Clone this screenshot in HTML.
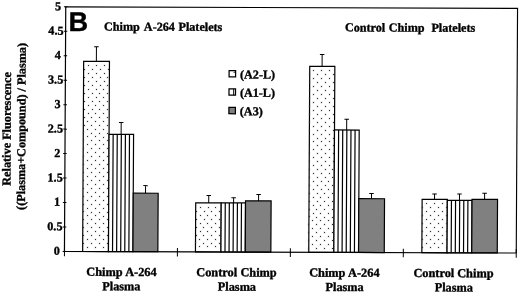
<!DOCTYPE html>
<html lang="en"><head><meta charset="utf-8"><title>Figure B</title>
<style>html,body{margin:0;padding:0;background:#fff;}body{width:520px;height:294px;overflow:hidden;}svg{display:block;}text{font-family:"Liberation Serif","Times New Roman",serif;font-weight:bold;fill:#000;stroke:#000;stroke-width:0.35px;stroke-linejoin:round;}</style>
</head><body>
<svg width="520" height="294" viewBox="0 0 520 294">
<rect width="520" height="294" fill="#fff"/>
<g transform="matrix(1 0.0035 -0.0053 1 0.6890 -1.0185)">
<rect x="83.30" y="62.01" width="25.80" height="190.22" fill="#fff"/>
<rect x="83.30" y="62.01" width="25.80" height="190.22" fill="none" stroke="#000" stroke-width="1.2"/>
<rect x="109.10" y="135.00" width="24.50" height="117.23" fill="#fff" stroke="#000" stroke-width="1.2"/>
<path d="M113.18 135.00V252.23M117.27 135.00V252.23M121.35 135.00V252.23M125.43 135.00V252.23M129.52 135.00V252.23" stroke="#000" stroke-width="1.2" fill="none"/>
<rect x="133.60" y="193.71" width="24.90" height="58.52" fill="#808080" stroke="#000" stroke-width="1.2"/>
<path d="M96.00 62.01V47.38M93.75 47.38H98.25M121.15 135.00V123.11M118.90 123.11H123.40M145.85 193.71V186.13M143.60 186.13H148.10" stroke="#000" stroke-width="1" fill="none"/>
<rect x="196.10" y="203.21" width="25.50" height="49.02" fill="#fff"/>
<rect x="196.10" y="203.21" width="25.50" height="49.02" fill="none" stroke="#000" stroke-width="1.2"/>
<rect x="221.60" y="203.11" width="24.30" height="49.12" fill="#fff" stroke="#000" stroke-width="1.2"/>
<path d="M225.65 203.11V252.23M229.70 203.11V252.23M233.75 203.11V252.23M237.80 203.11V252.23M241.85 203.11V252.23" stroke="#000" stroke-width="1.2" fill="none"/>
<rect x="245.90" y="201.00" width="25.60" height="51.23" fill="#808080" stroke="#000" stroke-width="1.2"/>
<path d="M209.10 203.21V195.67M206.85 195.67H211.35M234.00 203.11V197.92M231.75 197.92H236.25M258.95 201.00V194.60M256.70 194.60H261.20" stroke="#000" stroke-width="1" fill="none"/>
<rect x="309.40" y="66.21" width="25.10" height="186.02" fill="#fff"/>
<rect x="309.40" y="66.21" width="25.10" height="186.02" fill="none" stroke="#000" stroke-width="1.2"/>
<rect x="334.50" y="129.82" width="24.70" height="122.41" fill="#fff" stroke="#000" stroke-width="1.2"/>
<path d="M338.62 129.82V252.23M342.73 129.82V252.23M346.85 129.82V252.23M350.97 129.82V252.23M355.08 129.82V252.23" stroke="#000" stroke-width="1.2" fill="none"/>
<rect x="359.20" y="198.41" width="25.70" height="53.82" fill="#808080" stroke="#000" stroke-width="1.2"/>
<path d="M321.75 66.21V54.32M319.50 54.32H324.00M346.65 129.82V119.00M344.40 119.00H348.90M371.85 198.41V193.23M369.60 193.23H374.10" stroke="#000" stroke-width="1" fill="none"/>
<rect x="422.50" y="198.90" width="25.20" height="53.33" fill="#fff"/>
<rect x="422.50" y="198.90" width="25.20" height="53.33" fill="none" stroke="#000" stroke-width="1.2"/>
<rect x="447.70" y="199.73" width="24.70" height="52.50" fill="#fff" stroke="#000" stroke-width="1.2"/>
<path d="M451.82 199.73V252.23M455.93 199.73V252.23M460.05 199.73V252.23M464.17 199.73V252.23M468.28 199.73V252.23" stroke="#000" stroke-width="1.2" fill="none"/>
<rect x="472.40" y="198.70" width="25.50" height="53.53" fill="#808080" stroke="#000" stroke-width="1.2"/>
<path d="M434.90 198.90V193.52M432.65 193.52H437.15M459.85 199.73V193.52M457.60 193.52H462.10M484.95 198.70V192.64M482.70 192.64H487.20" stroke="#000" stroke-width="1" fill="none"/>
<path d="M65.1 7.6H516.9V252.23" stroke="#000" stroke-width="1.15" fill="none"/>
<path d="M65.1 7.6V252.23H516.9" stroke="#000" stroke-width="1.2" fill="none"/>
<text x="60.50" y="255.63" font-size="12.15" text-anchor="end">0</text>
<text x="63.00" y="231.17" font-size="12.15" text-anchor="end">0.5</text>
<text x="60.50" y="206.70" font-size="12.15" text-anchor="end">1</text>
<text x="63.00" y="182.24" font-size="12.15" text-anchor="end">1.5</text>
<text x="60.50" y="157.78" font-size="12.15" text-anchor="end">2</text>
<text x="63.00" y="133.31" font-size="12.15" text-anchor="end">2.5</text>
<text x="60.50" y="108.85" font-size="12.15" text-anchor="end">3</text>
<text x="63.00" y="84.39" font-size="12.15" text-anchor="end">3.5</text>
<text x="60.50" y="59.93" font-size="12.15" text-anchor="end">4</text>
<text x="63.00" y="35.46" font-size="12.15" text-anchor="end">4.5</text>
<text x="60.50" y="11.00" font-size="12.15" text-anchor="end">5</text>
<path d="M63.30 252.23H66.80M63.30 227.77H66.80M63.30 203.30H66.80M63.30 178.84H66.80M63.30 154.38H66.80M63.30 129.91H66.80M63.30 105.45H66.80M63.30 80.99H66.80M63.30 56.53H66.80M63.30 32.06H66.80M63.30 7.60H66.80M65.10 248.33V256.93M178.05 248.33V256.93M291.00 248.33V256.93M403.95 248.33V256.93M516.90 248.33V256.93" stroke="#000" stroke-width="1" fill="none"/>
<text x="68.0" y="31.8" font-size="27.2" style="font-family:'Liberation Sans',Arial,sans-serif">B</text>
<text y="31.2" font-size="12.15"><tspan x="103.52">Chimp</tspan> <tspan x="143.35">A-264</tspan> <tspan x="177.98">Platelets</tspan></text>
<text y="31.2" font-size="12.15"><tspan x="344.47">Control</tspan> <tspan x="388.27">Chimp</tspan> <tspan x="430.93">Platelets</tspan></text>
<rect x="228.80" y="70.80" width="6.5" height="6.3" fill="#fff" stroke="#000" stroke-width="1.25"/>
<ellipse cx="233.90" cy="72.55" rx="0.6" ry="0.75" fill="#000"/>
<text x="239.75" y="78.65" font-size="12.15">(A2-L)</text>
<rect x="228.80" y="89.05" width="6.5" height="6.3" fill="#fff" stroke="#000" stroke-width="1.25"/>
<path d="M233.45 89.05v6.3" stroke="#000" stroke-width="0.95"/>
<text x="239.75" y="96.90" font-size="12.15">(A1-L)</text>
<rect x="228.80" y="107.65" width="6.5" height="6.3" fill="#808080" stroke="#000" stroke-width="1.25"/>
<text x="239.75" y="115.50" font-size="12.15">(A3)</text>
<text y="276.55" font-size="12.35"><tspan x="87.06">Chimp</tspan> <tspan x="125.95">A-264</tspan></text>
<text y="290.85" font-size="12.25"><tspan x="103.11">Plasma</tspan></text>
<text y="276.55" font-size="12.35"><tspan x="197.01">Control</tspan> <tspan x="241.16">Chimp</tspan></text>
<text y="290.85" font-size="12.25"><tspan x="218.71">Plasma</tspan></text>
<text y="276.55" font-size="12.35"><tspan x="309.91">Chimp</tspan> <tspan x="348.80">A-264</tspan></text>
<text y="290.85" font-size="12.25"><tspan x="326.41">Plasma</tspan></text>
<text y="276.55" font-size="12.35"><tspan x="414.16">Control</tspan> <tspan x="457.96">Chimp</tspan></text>
<text y="290.85" font-size="12.25"><tspan x="435.51">Plasma</tspan></text>
<text transform="translate(10.7 129.9) rotate(-90)" font-size="12.25" text-anchor="middle">Relative Fluorescence</text>
<text transform="translate(25.3 127.4) rotate(-90)" font-size="12.21" text-anchor="middle">((Plasma+Compound) / Plasma)</text>
</g>
<path d="M87.5 64.5h2v2h-2zM95.5 64.5h2v2h-2zM103.5 64.5h2v2h-2zM83.5 68.5h2v2h-2zM91.5 68.5h2v2h-2zM99.5 68.5h2v2h-2zM107.5 68.5h2v2h-2zM87.5 72.5h2v2h-2zM95.5 72.5h2v2h-2zM103.5 72.5h2v2h-2zM83.5 76.5h2v2h-2zM91.5 76.5h2v2h-2zM99.5 76.5h2v2h-2zM106.5 76.5h2v2h-2zM87.5 80.5h2v2h-2zM95.5 80.5h2v2h-2zM103.5 80.5h2v2h-2zM83.5 84.5h2v2h-2zM91.5 84.5h2v2h-2zM99.5 84.5h2v2h-2zM106.5 84.5h2v2h-2zM87.5 88.5h2v2h-2zM95.5 88.5h2v2h-2zM102.5 88.5h2v2h-2zM83.5 92.5h2v2h-2zM91.5 92.5h2v2h-2zM98.5 92.5h2v2h-2zM106.5 92.5h2v2h-2zM87.5 96.5h2v2h-2zM95.5 96.5h2v2h-2zM102.5 96.5h2v2h-2zM83.5 100.5h2v2h-2zM91.5 100.5h2v2h-2zM98.5 100.5h2v2h-2zM106.5 100.5h2v2h-2zM87.5 104.5h2v2h-2zM94.5 104.5h2v2h-2zM102.5 104.5h2v2h-2zM83.5 108.5h2v2h-2zM91.5 108.5h2v2h-2zM98.5 108.5h2v2h-2zM106.5 108.5h2v2h-2zM87.5 112.5h2v2h-2zM94.5 112.5h2v2h-2zM102.5 112.5h2v2h-2zM83.5 116.5h2v2h-2zM90.5 116.5h2v2h-2zM98.5 116.5h2v2h-2zM106.5 116.5h2v2h-2zM86.5 120.5h2v2h-2zM94.5 120.5h2v2h-2zM102.5 120.5h2v2h-2zM83.5 124.5h2v2h-2zM90.5 124.5h2v2h-2zM98.5 124.5h2v2h-2zM106.5 124.5h2v2h-2zM86.5 128.5h2v2h-2zM94.5 128.5h2v2h-2zM102.5 128.5h2v2h-2zM82.5 131.5h2v2h-2zM90.5 132.5h2v2h-2zM98.5 132.5h2v2h-2zM106.5 132.5h2v2h-2zM86.5 135.5h2v2h-2zM94.5 135.5h2v2h-2zM102.5 136.5h2v2h-2zM82.5 139.5h2v2h-2zM90.5 139.5h2v2h-2zM98.5 139.5h2v2h-2zM106.5 139.5h2v2h-2zM86.5 143.5h2v2h-2zM94.5 143.5h2v2h-2zM102.5 143.5h2v2h-2zM82.5 147.5h2v2h-2zM90.5 147.5h2v2h-2zM98.5 147.5h2v2h-2zM106.5 147.5h2v2h-2zM86.5 151.5h2v2h-2zM94.5 151.5h2v2h-2zM102.5 151.5h2v2h-2zM82.5 155.5h2v2h-2zM90.5 155.5h2v2h-2zM98.5 155.5h2v2h-2zM106.5 155.5h2v2h-2zM86.5 159.5h2v2h-2zM94.5 159.5h2v2h-2zM102.5 159.5h2v2h-2zM82.5 163.5h2v2h-2zM90.5 163.5h2v2h-2zM98.5 163.5h2v2h-2zM106.5 163.5h2v2h-2zM86.5 167.5h2v2h-2zM94.5 167.5h2v2h-2zM102.5 167.5h2v2h-2zM82.5 171.5h2v2h-2zM90.5 171.5h2v2h-2zM98.5 171.5h2v2h-2zM106.5 171.5h2v2h-2zM86.5 175.5h2v2h-2zM94.5 175.5h2v2h-2zM102.5 175.5h2v2h-2zM82.5 179.5h2v2h-2zM90.5 179.5h2v2h-2zM98.5 179.5h2v2h-2zM106.5 179.5h2v2h-2zM86.5 183.5h2v2h-2zM94.5 183.5h2v2h-2zM102.5 183.5h2v2h-2zM82.5 187.5h2v2h-2zM90.5 187.5h2v2h-2zM98.5 187.5h2v2h-2zM106.5 187.5h2v2h-2zM86.5 191.5h2v2h-2zM94.5 191.5h2v2h-2zM102.5 191.5h2v2h-2zM82.5 195.5h2v2h-2zM90.5 195.5h2v2h-2zM98.5 195.5h2v2h-2zM106.5 195.5h2v2h-2zM86.5 199.5h2v2h-2zM94.5 199.5h2v2h-2zM102.5 199.5h2v2h-2zM82.5 203.5h2v2h-2zM90.5 203.5h2v2h-2zM98.5 203.5h2v2h-2zM106.5 203.5h2v2h-2zM86.5 207.5h2v2h-2zM94.5 207.5h2v2h-2zM102.5 207.5h2v2h-2zM82.5 210.5h2v2h-2zM90.5 211.5h2v2h-2zM98.5 211.5h2v2h-2zM106.5 211.5h2v2h-2zM86.5 214.5h2v2h-2zM94.5 214.5h2v2h-2zM102.5 215.5h2v2h-2zM82.5 218.5h2v2h-2zM90.5 218.5h2v2h-2zM98.5 218.5h2v2h-2zM106.5 218.5h2v2h-2zM86.5 222.5h2v2h-2zM94.5 222.5h2v2h-2zM102.5 222.5h2v2h-2zM82.5 226.5h2v2h-2zM90.5 226.5h2v2h-2zM98.5 226.5h2v2h-2zM106.5 226.5h2v2h-2zM86.5 230.5h2v2h-2zM94.5 230.5h2v2h-2zM102.5 230.5h2v2h-2zM82.5 234.5h2v2h-2zM90.5 234.5h2v2h-2zM98.5 234.5h2v2h-2zM106.5 234.5h2v2h-2zM86.5 238.5h2v2h-2zM94.5 238.5h2v2h-2zM102.5 238.5h2v2h-2zM82.5 242.5h2v2h-2zM90.5 242.5h2v2h-2zM98.5 242.5h2v2h-2zM106.5 242.5h2v2h-2zM86.5 246.5h2v2h-2zM94.5 246.5h2v2h-2zM102.5 246.5h2v2h-2zM199.5 206.5h2v2h-2zM207.5 206.5h2v2h-2zM214.5 206.5h2v2h-2zM195.5 210.5h2v2h-2zM203.5 210.5h2v2h-2zM210.5 210.5h2v2h-2zM218.5 210.5h2v2h-2zM199.5 214.5h2v2h-2zM206.5 214.5h2v2h-2zM214.5 214.5h2v2h-2zM195.5 218.5h2v2h-2zM203.5 218.5h2v2h-2zM210.5 218.5h2v2h-2zM218.5 218.5h2v2h-2zM199.5 222.5h2v2h-2zM206.5 222.5h2v2h-2zM214.5 222.5h2v2h-2zM195.5 226.5h2v2h-2zM202.5 226.5h2v2h-2zM210.5 226.5h2v2h-2zM218.5 226.5h2v2h-2zM199.5 230.5h2v2h-2zM206.5 230.5h2v2h-2zM214.5 230.5h2v2h-2zM195.5 234.5h2v2h-2zM202.5 234.5h2v2h-2zM210.5 234.5h2v2h-2zM218.5 234.5h2v2h-2zM198.5 238.5h2v2h-2zM206.5 238.5h2v2h-2zM214.5 238.5h2v2h-2zM194.5 241.5h2v2h-2zM202.5 242.5h2v2h-2zM210.5 242.5h2v2h-2zM218.5 242.5h2v2h-2zM198.5 245.5h2v2h-2zM206.5 245.5h2v2h-2zM214.5 245.5h2v2h-2zM312.5 69.5h2v2h-2zM320.5 69.5h2v2h-2zM328.5 69.5h2v2h-2zM308.5 73.5h2v2h-2zM316.5 73.5h2v2h-2zM324.5 73.5h2v2h-2zM332.5 73.5h2v2h-2zM312.5 77.5h2v2h-2zM320.5 77.5h2v2h-2zM328.5 77.5h2v2h-2zM308.5 81.5h2v2h-2zM316.5 81.5h2v2h-2zM324.5 81.5h2v2h-2zM332.5 81.5h2v2h-2zM312.5 85.5h2v2h-2zM320.5 85.5h2v2h-2zM328.5 85.5h2v2h-2zM308.5 89.5h2v2h-2zM316.5 89.5h2v2h-2zM324.5 89.5h2v2h-2zM332.5 89.5h2v2h-2zM312.5 93.5h2v2h-2zM320.5 93.5h2v2h-2zM328.5 93.5h2v2h-2zM308.5 97.5h2v2h-2zM316.5 97.5h2v2h-2zM324.5 97.5h2v2h-2zM332.5 97.5h2v2h-2zM312.5 101.5h2v2h-2zM320.5 101.5h2v2h-2zM328.5 101.5h2v2h-2zM308.5 105.5h2v2h-2zM316.5 105.5h2v2h-2zM324.5 105.5h2v2h-2zM332.5 105.5h2v2h-2zM312.5 109.5h2v2h-2zM320.5 109.5h2v2h-2zM328.5 109.5h2v2h-2zM308.5 113.5h2v2h-2zM316.5 113.5h2v2h-2zM324.5 113.5h2v2h-2zM332.5 113.5h2v2h-2zM312.5 117.5h2v2h-2zM320.5 117.5h2v2h-2zM328.5 117.5h2v2h-2zM308.5 121.5h2v2h-2zM316.5 121.5h2v2h-2zM324.5 121.5h2v2h-2zM332.5 121.5h2v2h-2zM312.5 125.5h2v2h-2zM320.5 125.5h2v2h-2zM328.5 125.5h2v2h-2zM308.5 129.5h2v2h-2zM316.5 129.5h2v2h-2zM324.5 129.5h2v2h-2zM332.5 129.5h2v2h-2zM312.5 133.5h2v2h-2zM320.5 133.5h2v2h-2zM328.5 133.5h2v2h-2zM308.5 136.5h2v2h-2zM316.5 137.5h2v2h-2zM324.5 137.5h2v2h-2zM332.5 137.5h2v2h-2zM312.5 140.5h2v2h-2zM320.5 140.5h2v2h-2zM328.5 140.5h2v2h-2zM308.5 144.5h2v2h-2zM316.5 144.5h2v2h-2zM324.5 144.5h2v2h-2zM332.5 144.5h2v2h-2zM312.5 148.5h2v2h-2zM320.5 148.5h2v2h-2zM328.5 148.5h2v2h-2zM308.5 152.5h2v2h-2zM316.5 152.5h2v2h-2zM324.5 152.5h2v2h-2zM332.5 152.5h2v2h-2zM312.5 156.5h2v2h-2zM320.5 156.5h2v2h-2zM328.5 156.5h2v2h-2zM308.5 160.5h2v2h-2zM316.5 160.5h2v2h-2zM324.5 160.5h2v2h-2zM332.5 160.5h2v2h-2zM312.5 164.5h2v2h-2zM320.5 164.5h2v2h-2zM328.5 164.5h2v2h-2zM308.5 168.5h2v2h-2zM316.5 168.5h2v2h-2zM324.5 168.5h2v2h-2zM331.5 168.5h2v2h-2zM312.5 172.5h2v2h-2zM320.5 172.5h2v2h-2zM328.5 172.5h2v2h-2zM308.5 176.5h2v2h-2zM316.5 176.5h2v2h-2zM324.5 176.5h2v2h-2zM331.5 176.5h2v2h-2zM312.5 180.5h2v2h-2zM320.5 180.5h2v2h-2zM327.5 180.5h2v2h-2zM308.5 184.5h2v2h-2zM316.5 184.5h2v2h-2zM324.5 184.5h2v2h-2zM331.5 184.5h2v2h-2zM312.5 188.5h2v2h-2zM320.5 188.5h2v2h-2zM327.5 188.5h2v2h-2zM308.5 192.5h2v2h-2zM316.5 192.5h2v2h-2zM323.5 192.5h2v2h-2zM331.5 192.5h2v2h-2zM312.5 196.5h2v2h-2zM319.5 196.5h2v2h-2zM327.5 196.5h2v2h-2zM308.5 200.5h2v2h-2zM316.5 200.5h2v2h-2zM323.5 200.5h2v2h-2zM331.5 200.5h2v2h-2zM312.5 204.5h2v2h-2zM319.5 204.5h2v2h-2zM327.5 204.5h2v2h-2zM308.5 208.5h2v2h-2zM315.5 208.5h2v2h-2zM323.5 208.5h2v2h-2zM331.5 208.5h2v2h-2zM312.5 212.5h2v2h-2zM319.5 212.5h2v2h-2zM327.5 212.5h2v2h-2zM308.5 215.5h2v2h-2zM315.5 216.5h2v2h-2zM323.5 216.5h2v2h-2zM331.5 216.5h2v2h-2zM311.5 219.5h2v2h-2zM319.5 219.5h2v2h-2zM327.5 219.5h2v2h-2zM307.5 223.5h2v2h-2zM315.5 223.5h2v2h-2zM323.5 223.5h2v2h-2zM331.5 223.5h2v2h-2zM311.5 227.5h2v2h-2zM319.5 227.5h2v2h-2zM327.5 227.5h2v2h-2zM307.5 231.5h2v2h-2zM315.5 231.5h2v2h-2zM323.5 231.5h2v2h-2zM331.5 231.5h2v2h-2zM311.5 235.5h2v2h-2zM319.5 235.5h2v2h-2zM327.5 235.5h2v2h-2zM307.5 239.5h2v2h-2zM315.5 239.5h2v2h-2zM323.5 239.5h2v2h-2zM331.5 239.5h2v2h-2zM311.5 243.5h2v2h-2zM319.5 243.5h2v2h-2zM327.5 243.5h2v2h-2zM307.5 247.5h2v2h-2zM315.5 247.5h2v2h-2zM323.5 247.5h2v2h-2zM331.5 247.5h2v2h-2zM425.5 202.5h2v2h-2zM433.5 202.5h2v2h-2zM441.5 202.5h2v2h-2zM421.5 206.5h2v2h-2zM429.5 206.5h2v2h-2zM437.5 206.5h2v2h-2zM445.5 206.5h2v2h-2zM425.5 210.5h2v2h-2zM433.5 210.5h2v2h-2zM441.5 210.5h2v2h-2zM421.5 214.5h2v2h-2zM429.5 214.5h2v2h-2zM437.5 214.5h2v2h-2zM445.5 214.5h2v2h-2zM425.5 218.5h2v2h-2zM433.5 218.5h2v2h-2zM441.5 218.5h2v2h-2zM421.5 222.5h2v2h-2zM429.5 222.5h2v2h-2zM437.5 222.5h2v2h-2zM445.5 222.5h2v2h-2zM425.5 226.5h2v2h-2zM433.5 226.5h2v2h-2zM441.5 226.5h2v2h-2zM421.5 230.5h2v2h-2zM429.5 230.5h2v2h-2zM437.5 230.5h2v2h-2zM445.5 230.5h2v2h-2zM425.5 234.5h2v2h-2zM433.5 234.5h2v2h-2zM441.5 234.5h2v2h-2zM421.5 238.5h2v2h-2zM429.5 238.5h2v2h-2zM437.5 238.5h2v2h-2zM445.5 238.5h2v2h-2zM425.5 242.5h2v2h-2zM433.5 242.5h2v2h-2zM441.5 242.5h2v2h-2zM421.5 246.5h2v2h-2zM429.5 246.5h2v2h-2zM437.5 246.5h2v2h-2zM445.5 246.5h2v2h-2z" fill="#000" fill-opacity="0.14"/>
<path d="M88 65h1v1h-1zM96 65h1v1h-1zM104 65h1v1h-1zM84 69h1v1h-1zM92 69h1v1h-1zM100 69h1v1h-1zM108 69h1v1h-1zM88 73h1v1h-1zM96 73h1v1h-1zM104 73h1v1h-1zM84 77h1v1h-1zM92 77h1v1h-1zM100 77h1v1h-1zM107 77h1v1h-1zM88 81h1v1h-1zM96 81h1v1h-1zM104 81h1v1h-1zM84 85h1v1h-1zM92 85h1v1h-1zM100 85h1v1h-1zM107 85h1v1h-1zM88 89h1v1h-1zM96 89h1v1h-1zM103 89h1v1h-1zM84 93h1v1h-1zM92 93h1v1h-1zM99 93h1v1h-1zM107 93h1v1h-1zM88 97h1v1h-1zM96 97h1v1h-1zM103 97h1v1h-1zM84 101h1v1h-1zM92 101h1v1h-1zM99 101h1v1h-1zM107 101h1v1h-1zM88 105h1v1h-1zM95 105h1v1h-1zM103 105h1v1h-1zM84 109h1v1h-1zM92 109h1v1h-1zM99 109h1v1h-1zM107 109h1v1h-1zM88 113h1v1h-1zM95 113h1v1h-1zM103 113h1v1h-1zM84 117h1v1h-1zM91 117h1v1h-1zM99 117h1v1h-1zM107 117h1v1h-1zM87 121h1v1h-1zM95 121h1v1h-1zM103 121h1v1h-1zM84 125h1v1h-1zM91 125h1v1h-1zM99 125h1v1h-1zM107 125h1v1h-1zM87 129h1v1h-1zM95 129h1v1h-1zM103 129h1v1h-1zM83 132h1v1h-1zM91 133h1v1h-1zM99 133h1v1h-1zM107 133h1v1h-1zM87 136h1v1h-1zM95 136h1v1h-1zM103 137h1v1h-1zM83 140h1v1h-1zM91 140h1v1h-1zM99 140h1v1h-1zM107 140h1v1h-1zM87 144h1v1h-1zM95 144h1v1h-1zM103 144h1v1h-1zM83 148h1v1h-1zM91 148h1v1h-1zM99 148h1v1h-1zM107 148h1v1h-1zM87 152h1v1h-1zM95 152h1v1h-1zM103 152h1v1h-1zM83 156h1v1h-1zM91 156h1v1h-1zM99 156h1v1h-1zM107 156h1v1h-1zM87 160h1v1h-1zM95 160h1v1h-1zM103 160h1v1h-1zM83 164h1v1h-1zM91 164h1v1h-1zM99 164h1v1h-1zM107 164h1v1h-1zM87 168h1v1h-1zM95 168h1v1h-1zM103 168h1v1h-1zM83 172h1v1h-1zM91 172h1v1h-1zM99 172h1v1h-1zM107 172h1v1h-1zM87 176h1v1h-1zM95 176h1v1h-1zM103 176h1v1h-1zM83 180h1v1h-1zM91 180h1v1h-1zM99 180h1v1h-1zM107 180h1v1h-1zM87 184h1v1h-1zM95 184h1v1h-1zM103 184h1v1h-1zM83 188h1v1h-1zM91 188h1v1h-1zM99 188h1v1h-1zM107 188h1v1h-1zM87 192h1v1h-1zM95 192h1v1h-1zM103 192h1v1h-1zM83 196h1v1h-1zM91 196h1v1h-1zM99 196h1v1h-1zM107 196h1v1h-1zM87 200h1v1h-1zM95 200h1v1h-1zM103 200h1v1h-1zM83 204h1v1h-1zM91 204h1v1h-1zM99 204h1v1h-1zM107 204h1v1h-1zM87 208h1v1h-1zM95 208h1v1h-1zM103 208h1v1h-1zM83 211h1v1h-1zM91 212h1v1h-1zM99 212h1v1h-1zM107 212h1v1h-1zM87 215h1v1h-1zM95 215h1v1h-1zM103 216h1v1h-1zM83 219h1v1h-1zM91 219h1v1h-1zM99 219h1v1h-1zM107 219h1v1h-1zM87 223h1v1h-1zM95 223h1v1h-1zM103 223h1v1h-1zM83 227h1v1h-1zM91 227h1v1h-1zM99 227h1v1h-1zM107 227h1v1h-1zM87 231h1v1h-1zM95 231h1v1h-1zM103 231h1v1h-1zM83 235h1v1h-1zM91 235h1v1h-1zM99 235h1v1h-1zM107 235h1v1h-1zM87 239h1v1h-1zM95 239h1v1h-1zM103 239h1v1h-1zM83 243h1v1h-1zM91 243h1v1h-1zM99 243h1v1h-1zM107 243h1v1h-1zM87 247h1v1h-1zM95 247h1v1h-1zM103 247h1v1h-1zM200 207h1v1h-1zM208 207h1v1h-1zM215 207h1v1h-1zM196 211h1v1h-1zM204 211h1v1h-1zM211 211h1v1h-1zM219 211h1v1h-1zM200 215h1v1h-1zM207 215h1v1h-1zM215 215h1v1h-1zM196 219h1v1h-1zM204 219h1v1h-1zM211 219h1v1h-1zM219 219h1v1h-1zM200 223h1v1h-1zM207 223h1v1h-1zM215 223h1v1h-1zM196 227h1v1h-1zM203 227h1v1h-1zM211 227h1v1h-1zM219 227h1v1h-1zM200 231h1v1h-1zM207 231h1v1h-1zM215 231h1v1h-1zM196 235h1v1h-1zM203 235h1v1h-1zM211 235h1v1h-1zM219 235h1v1h-1zM199 239h1v1h-1zM207 239h1v1h-1zM215 239h1v1h-1zM195 242h1v1h-1zM203 243h1v1h-1zM211 243h1v1h-1zM219 243h1v1h-1zM199 246h1v1h-1zM207 246h1v1h-1zM215 246h1v1h-1zM313 70h1v1h-1zM321 70h1v1h-1zM329 70h1v1h-1zM309 74h1v1h-1zM317 74h1v1h-1zM325 74h1v1h-1zM333 74h1v1h-1zM313 78h1v1h-1zM321 78h1v1h-1zM329 78h1v1h-1zM309 82h1v1h-1zM317 82h1v1h-1zM325 82h1v1h-1zM333 82h1v1h-1zM313 86h1v1h-1zM321 86h1v1h-1zM329 86h1v1h-1zM309 90h1v1h-1zM317 90h1v1h-1zM325 90h1v1h-1zM333 90h1v1h-1zM313 94h1v1h-1zM321 94h1v1h-1zM329 94h1v1h-1zM309 98h1v1h-1zM317 98h1v1h-1zM325 98h1v1h-1zM333 98h1v1h-1zM313 102h1v1h-1zM321 102h1v1h-1zM329 102h1v1h-1zM309 106h1v1h-1zM317 106h1v1h-1zM325 106h1v1h-1zM333 106h1v1h-1zM313 110h1v1h-1zM321 110h1v1h-1zM329 110h1v1h-1zM309 114h1v1h-1zM317 114h1v1h-1zM325 114h1v1h-1zM333 114h1v1h-1zM313 118h1v1h-1zM321 118h1v1h-1zM329 118h1v1h-1zM309 122h1v1h-1zM317 122h1v1h-1zM325 122h1v1h-1zM333 122h1v1h-1zM313 126h1v1h-1zM321 126h1v1h-1zM329 126h1v1h-1zM309 130h1v1h-1zM317 130h1v1h-1zM325 130h1v1h-1zM333 130h1v1h-1zM313 134h1v1h-1zM321 134h1v1h-1zM329 134h1v1h-1zM309 137h1v1h-1zM317 138h1v1h-1zM325 138h1v1h-1zM333 138h1v1h-1zM313 141h1v1h-1zM321 141h1v1h-1zM329 141h1v1h-1zM309 145h1v1h-1zM317 145h1v1h-1zM325 145h1v1h-1zM333 145h1v1h-1zM313 149h1v1h-1zM321 149h1v1h-1zM329 149h1v1h-1zM309 153h1v1h-1zM317 153h1v1h-1zM325 153h1v1h-1zM333 153h1v1h-1zM313 157h1v1h-1zM321 157h1v1h-1zM329 157h1v1h-1zM309 161h1v1h-1zM317 161h1v1h-1zM325 161h1v1h-1zM333 161h1v1h-1zM313 165h1v1h-1zM321 165h1v1h-1zM329 165h1v1h-1zM309 169h1v1h-1zM317 169h1v1h-1zM325 169h1v1h-1zM332 169h1v1h-1zM313 173h1v1h-1zM321 173h1v1h-1zM329 173h1v1h-1zM309 177h1v1h-1zM317 177h1v1h-1zM325 177h1v1h-1zM332 177h1v1h-1zM313 181h1v1h-1zM321 181h1v1h-1zM328 181h1v1h-1zM309 185h1v1h-1zM317 185h1v1h-1zM325 185h1v1h-1zM332 185h1v1h-1zM313 189h1v1h-1zM321 189h1v1h-1zM328 189h1v1h-1zM309 193h1v1h-1zM317 193h1v1h-1zM324 193h1v1h-1zM332 193h1v1h-1zM313 197h1v1h-1zM320 197h1v1h-1zM328 197h1v1h-1zM309 201h1v1h-1zM317 201h1v1h-1zM324 201h1v1h-1zM332 201h1v1h-1zM313 205h1v1h-1zM320 205h1v1h-1zM328 205h1v1h-1zM309 209h1v1h-1zM316 209h1v1h-1zM324 209h1v1h-1zM332 209h1v1h-1zM313 213h1v1h-1zM320 213h1v1h-1zM328 213h1v1h-1zM309 216h1v1h-1zM316 217h1v1h-1zM324 217h1v1h-1zM332 217h1v1h-1zM312 220h1v1h-1zM320 220h1v1h-1zM328 220h1v1h-1zM308 224h1v1h-1zM316 224h1v1h-1zM324 224h1v1h-1zM332 224h1v1h-1zM312 228h1v1h-1zM320 228h1v1h-1zM328 228h1v1h-1zM308 232h1v1h-1zM316 232h1v1h-1zM324 232h1v1h-1zM332 232h1v1h-1zM312 236h1v1h-1zM320 236h1v1h-1zM328 236h1v1h-1zM308 240h1v1h-1zM316 240h1v1h-1zM324 240h1v1h-1zM332 240h1v1h-1zM312 244h1v1h-1zM320 244h1v1h-1zM328 244h1v1h-1zM308 248h1v1h-1zM316 248h1v1h-1zM324 248h1v1h-1zM332 248h1v1h-1zM426 203h1v1h-1zM434 203h1v1h-1zM442 203h1v1h-1zM422 207h1v1h-1zM430 207h1v1h-1zM438 207h1v1h-1zM446 207h1v1h-1zM426 211h1v1h-1zM434 211h1v1h-1zM442 211h1v1h-1zM422 215h1v1h-1zM430 215h1v1h-1zM438 215h1v1h-1zM446 215h1v1h-1zM426 219h1v1h-1zM434 219h1v1h-1zM442 219h1v1h-1zM422 223h1v1h-1zM430 223h1v1h-1zM438 223h1v1h-1zM446 223h1v1h-1zM426 227h1v1h-1zM434 227h1v1h-1zM442 227h1v1h-1zM422 231h1v1h-1zM430 231h1v1h-1zM438 231h1v1h-1zM446 231h1v1h-1zM426 235h1v1h-1zM434 235h1v1h-1zM442 235h1v1h-1zM422 239h1v1h-1zM430 239h1v1h-1zM438 239h1v1h-1zM446 239h1v1h-1zM426 243h1v1h-1zM434 243h1v1h-1zM442 243h1v1h-1zM422 247h1v1h-1zM430 247h1v1h-1zM438 247h1v1h-1zM446 247h1v1h-1z" fill="#303030" shape-rendering="crispEdges"/>
</svg></body></html>
